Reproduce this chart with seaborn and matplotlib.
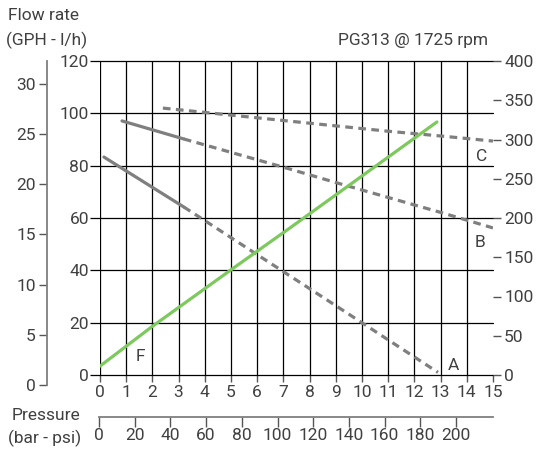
import numpy as np
import matplotlib.pyplot as plt
import seaborn as sns

# --- dati (bar vs l/h) ---
a_solid_bar = [0.15, 3.2]
a_solid_lh = [83.3, 64.2]
a_dash_bar = [3.2, 6.0, 9.0, 12.9]
a_dash_lh = [64.2, 46.0, 26.5, 1.0]

b_solid_bar = [0.84, 3.2]
b_solid_lh = [97.1, 90.2]
b_dash_bar = [3.2, 7.25, 9.05, 13.05, 15.0]
b_dash_lh = [90.2, 78.7, 73.4, 62.0, 56.2]

c_dash_bar = [2.4, 7.25, 10.95, 13.05, 15.0]
c_dash_lh = [102.0, 97.0, 93.2, 91.3, 89.4]

f_bar = [0.0, 2.0, 5.0, 7.25, 12.86]
f_lh = [3.4, 18.6, 40.2, 56.2, 96.7]

curve_labels = ["A", "B", "C", "F"]
label_pos = [(13.5, 3.5), (14.5, 50.5), (14.55, 83.5), (1.55, 7.0)]

bar_ticks = list(range(0, 16))
lh_ticks = [0, 20, 40, 60, 80, 100, 120]
right_ticks = [0, 50, 100, 150, 200, 250, 300, 350, 400]
gph_ticks = [0, 5, 10, 15, 20, 25, 30]
psi_ticks = [0, 20, 40, 60, 80, 100, 120, 140, 160, 180, 200]

sns.set_theme(style="white")
plt.rcParams['font.family'] = ['Roboto', 'DejaVu Sans']
FS = 12.5
TXT = "#404040"
GRAY = "#7f7f7f"
GREEN = "#7dc95e"

W, H = 544, 450
fig = plt.figure(figsize=(5.44, 4.5), dpi=100)


def box(l, t, r, b):
    return [l / W, 1 - b / H, (r - l) / W, (b - t) / H]


ax = fig.add_axes(box(100, 61, 493, 375))
ax.set_xlim(0, 15)
ax.set_ylim(0, 120)
for s in ax.spines.values():
    s.set_visible(False)

# griglia
for xv in bar_ticks[:-1]:
    ax.axvline(xv, color="black", lw=0.9, zorder=1)
for yv in lh_ticks:
    ax.axhline(yv, color="black", lw=0.9, zorder=1, clip_on=False)

dash = (2.4, 1.7)
kw = dict(ax=ax, color=GRAY, lw=2.3, sort=False, legend=False)
sns.lineplot(x=a_solid_bar, y=a_solid_lh, **kw)
sns.lineplot(x=b_solid_bar, y=b_solid_lh, **kw)
for xs, ys in [(a_dash_bar, a_dash_lh), (b_dash_bar, b_dash_lh), (c_dash_bar, c_dash_lh)]:
    ln = sns.lineplot(x=xs, y=ys, **kw).lines[-1]
    ln.set_dashes(dash)
sns.lineplot(x=f_bar, y=f_lh, ax=ax, color=GREEN, lw=2.3, sort=False, legend=False)

for lab, (xx, yy) in zip(curve_labels, label_pos):
    ax.text(xx, yy, lab, fontsize=FS, color=TXT, ha="center", va="center")

ax.set_xticks(bar_ticks)
ax.set_yticks(lh_ticks)
ax.tick_params(axis="x", direction="out", length=5, width=1, color="#555555",
               labelsize=FS, labelcolor=TXT, pad=2, bottom=True)
ax.tick_params(axis="y", direction="out", length=7, width=0.9, color="black",
               labelsize=FS, labelcolor=TXT, pad=1, left=True)
ax.set_xlabel("")
ax.set_ylabel("")

# asse destro
ax2 = ax.twinx()
ax2.set_ylim(0, 400)
ax2.set_yticks(right_ticks)
for s in ax2.spines.values():
    s.set_visible(False)
ax2.tick_params(axis="y", direction="out", length=6, width=1, color="#555555",
                labelsize=FS, labelcolor=TXT, pad=2, right=True)
ax2.grid(False)

# asse GPH
axg = fig.add_axes(box(47, 61, 48, 385))
axg.set_facecolor("none")
axg.set_ylim(0, 324 / 10.04)
axg.set_yticks(gph_ticks)
axg.set_xticks([])
for k, s in axg.spines.items():
    s.set_visible(k == "left")
axg.spines["left"].set_color(GRAY)
axg.spines["left"].set_linewidth(1.3)
axg.tick_params(axis="y", direction="out", length=6, width=1, color="#555555",
                labelsize=FS, labelcolor=TXT, pad=2, left=True)

# asse psi
axp = fig.add_axes(box(99, 416, 493, 417))
axp.set_facecolor("none")
axp.set_xlim(0, 394 / 1.785)
axp.set_xticks(psi_ticks)
axp.set_yticks([])
for k, s in axp.spines.items():
    s.set_visible(k == "bottom")
axp.spines["bottom"].set_color(GRAY)
axp.spines["bottom"].set_linewidth(1.3)
axp.tick_params(axis="x", direction="out", length=7, width=1, color="#555555",
                labelsize=FS, labelcolor=TXT, pad=1, bottom=True)

fig.text(8 / W, 1 - 16 / H, "Flow rate", fontsize=FS, color=TXT, va="center")
fig.text(6 / W, 1 - 40 / H, "(GPH - l/h)", fontsize=FS, color=TXT, va="center")
fig.text(488 / W, 1 - 41 / H, "PG313 @ 1725 rpm", fontsize=FS, color=TXT, va="center", ha="right")
fig.text(12 / W, 1 - 415 / H, "Pressure", fontsize=FS, color=TXT, va="center")
fig.text(8 / W, 1 - 438 / H, "(bar - psi)", fontsize=FS, color=TXT, va="center")

fig.savefig("out.png", dpi=100)
